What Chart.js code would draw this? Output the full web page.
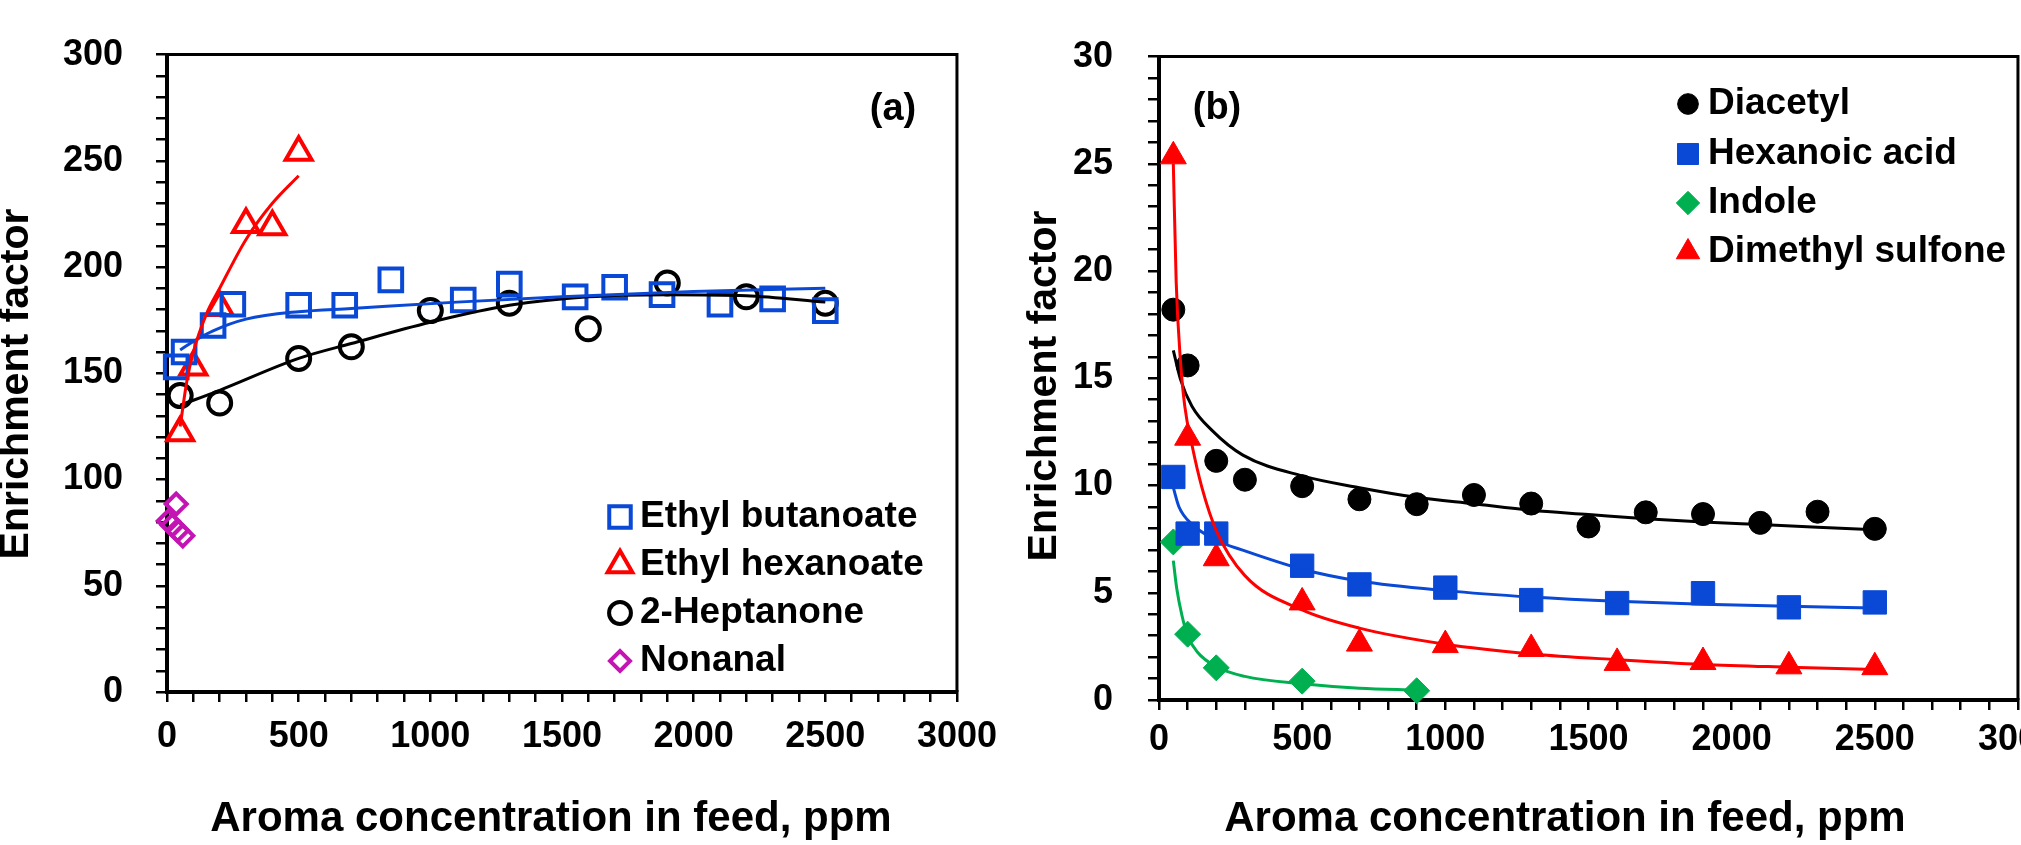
<!DOCTYPE html>
<html lang="en">
<head>
<meta charset="UTF-8" />
<title>Enrichment factor vs aroma concentration</title>
<script src="https://cdn.jsdelivr.net/npm/chart.js"></script>
<style>
  html, body { margin: 0; padding: 0; background: #fff; overflow: hidden; }
  .panel { position: absolute; top: 0; height: 845px; }
  #panelA { left: 0; width: 1010px; }
  #panelB { left: 1010px; width: 1056px; }
</style>
</head>
<body>
<div class="panel" id="panelA"><canvas id="chartA" width="1010" height="845"></canvas></div>
<div class="panel" id="panelB"><canvas id="chartB" width="1056" height="845"></canvas></div>
<script>
const X_TITLE = 'Aroma concentration in feed, ppm';
const Y_TITLE = 'Enrichment factor';

// ---- panel (a) data ----
const ebX = [35, 65, 175, 250, 500, 675, 850, 1125, 1300, 1550, 1700, 1880, 2100, 2300, 2500];
const ebY = [153, 160, 172.5, 182.5, 182, 182, 194, 184.5, 192, 186, 190.5, 187, 182.5, 185, 179.5];
const ehX = [50, 100, 200, 300, 400, 500];
const ehY = [122, 153, 181, 220, 219, 254];
const hpX = [50, 200, 500, 700, 1000, 1300, 1600, 1900, 2200, 2500];
const hpY = [139.5, 136, 157, 162.5, 179.5, 183, 171, 192.5, 186, 183];
const nnX = [35, 5, 20, 40, 60];
const nnY = [88.5, 80.5, 78.5, 76, 73.5];

// trend lines
const ebFitX = [50, 100, 175, 300, 500, 700, 1100, 1500, 2000, 2500];
const ebFitY = [161, 165, 170, 175.5, 179, 180.5, 183.5, 186, 188.5, 190];
const ehFitX = [50, 75, 100, 150, 200, 300, 400, 500];
const ehFitY = [125, 146, 160, 178, 190, 213, 230, 243];
const hpFitX = [50, 200, 500, 700, 1000, 1300, 1600, 1900, 2200, 2500];
const hpFitY = [135, 142, 157, 164, 174, 182, 186, 187, 186.5, 183.5];

// ---- panel (b) data ----
const diX = [50, 100, 200, 300, 500, 700, 900, 1100, 1300, 1500, 1700, 1900, 2100, 2300, 2500];
const diY = [18.2, 15.6, 11.15, 10.27, 9.97, 9.36, 9.13, 9.56, 9.16, 8.09, 8.75, 8.67, 8.26, 8.78, 7.98];
const haX = [50, 100, 200, 500, 700, 1000, 1300, 1600, 1900, 2200, 2500];
const haY = [10.4, 7.76, 7.76, 6.26, 5.39, 5.24, 4.66, 4.52, 4.98, 4.32, 4.55];
const inX = [50, 100, 200, 500, 900];
const inY = [7.37, 3.07, 1.5, 0.88, 0.43];
const dsX = [50, 100, 200, 500, 700, 1000, 1300, 1600, 1900, 2200, 2500];
const dsY = [25.35, 12.23, 6.61, 4.55, 2.63, 2.56, 2.38, 1.73, 1.77, 1.57, 1.53];

// trend lines
const diFitX = [50, 75, 115, 186, 293, 500, 700, 900, 1100, 1300, 1500, 1700, 1900, 2100, 2300, 2500];
const diFitY = [16.3, 14.95, 13.7, 12.56, 11.42, 10.45, 9.9, 9.45, 9.15, 8.85, 8.65, 8.45, 8.3, 8.18, 8.06, 7.94];
const haFitX = [50, 70, 115, 200, 300, 500, 700, 1000, 1300, 1600, 1900, 2200, 2500];
const haFitY = [9.9, 9.0, 8.2, 7.45, 6.95, 6.1, 5.55, 5.1, 4.8, 4.6, 4.47, 4.37, 4.29];
const inFitX = [50, 62, 80, 100, 133, 200, 300, 500, 700, 900];
const inFitY = [6.5, 5.2, 3.95, 3.0, 2.25, 1.55, 1.1, 0.76, 0.55, 0.46];
const dsFitX = [50, 60, 75, 90, 115, 150, 200, 300, 500, 700, 1000, 1300, 1600, 1900, 2200, 2500];
const dsFitY = [25, 19.5, 15.8, 13.7, 11.9, 9.9, 7.9, 5.8, 4.2, 3.35, 2.6, 2.15, 1.88, 1.66, 1.53, 1.42];

const BLUE = '#0a48d6';
const RED = '#ff0000';
const GREEN = '#00b050';
const MAGENTA = '#c414b4';
const FONT = "'Liberation Sans', Arial, sans-serif";

const pts = (xs, ys) => xs.map((x, i) => ({ x: x, y: ys[i] }));

function pointSet(label, data, style, r, color, filled) {
  return {
    label: label, data: data, showLine: false,
    pointStyle: style, pointRadius: r, pointHoverRadius: r,
    pointBorderWidth: filled ? 1 : 4,
    pointBorderColor: color,
    pointBackgroundColor: filled ? color : 'rgba(0,0,0,0)',
    clip: false
  };
}

function fitSet(data, color) {
  return {
    label: '', data: data, showLine: true, pointRadius: 0,
    borderColor: color, borderWidth: 3,
    cubicInterpolationMode: 'monotone', fill: false, clip: false
  };
}

function xAxis(height, pad) {
  return {
    type: 'linear', min: 0, max: 3000,
    afterFit: s => { s.height = height; },
    ticks: {
      stepSize: 100, autoSkip: false, maxRotation: 0, padding: pad, color: '#000',
      font: { family: FONT, size: 36, weight: 'bold' },
      callback: v => (v % 500 === 0 ? String(v) : '')
    },
    grid: { drawOnChartArea: false, drawTicks: true, tickLength: 10, lineWidth: 2.5, color: '#000' },
    border: { display: true, width: 4, color: '#000' }
  };
}

function yAxis(width, max, step, every, pad) {
  return {
    type: 'linear', min: 0, max: max,
    afterFit: s => { s.width = width; },
    ticks: {
      stepSize: step, autoSkip: false, padding: pad, color: '#000',
      font: { family: FONT, size: 36, weight: 'bold' },
      callback: v => (Math.abs(v % every) < 1e-6 ? String(v) : '')
    },
    grid: { drawOnChartArea: false, drawTicks: true, tickLength: 11, lineWidth: 2.5, color: '#000' },
    border: { display: true, width: 4, color: '#000' }
  };
}

// top and right border of the plot box
const frame = {
  id: 'frame',
  beforeDatasetsDraw(chart) {
    const a = chart.chartArea, ctx = chart.ctx;
    ctx.save();
    ctx.strokeStyle = '#000';
    ctx.lineWidth = 3;
    ctx.beginPath();
    ctx.moveTo(a.left, a.top);
    ctx.lineTo(a.right, a.top);
    ctx.lineTo(a.right, a.bottom);
    ctx.stroke();
    ctx.restore();
  }
};

// axis titles, in-plot legend and panel letter
const decor = {
  id: 'decor',
  afterDraw(chart, args, opts) {
    const ctx = chart.ctx;
    ctx.save();
    ctx.fillStyle = '#000';
    ctx.textBaseline = 'middle';
    ctx.textAlign = 'center';

    ctx.font = 'bold 42px ' + FONT;
    ctx.fillText(X_TITLE, opts.xTitle[0], opts.xTitle[1]);
    ctx.save();
    ctx.translate(opts.yTitle[0], opts.yTitle[1]);
    ctx.rotate(-Math.PI / 2);
    ctx.font = 'bold 41px ' + FONT;
    ctx.fillText(Y_TITLE, 0, 0);
    ctx.restore();

    ctx.font = 'bold 38px ' + FONT;
    ctx.fillText(opts.panel, opts.panelX, opts.panelY);

    ctx.textAlign = 'left';
    ctx.font = 'bold 37px ' + FONT;
    opts.items.forEach((idx, i) => {
      const ds = chart.data.datasets[idx];
      const y = opts.rows[i];
      ctx.save();
      ctx.fillStyle = ds.pointBackgroundColor;
      ctx.strokeStyle = ds.pointBorderColor;
      ctx.lineWidth = ds.pointBorderWidth;
      Chart.helpers.drawPoint(ctx, {
        pointStyle: ds.pointStyle, radius: ds.pointRadius * opts.scale,
        borderWidth: ds.pointBorderWidth, rotation: 0
      }, opts.markerX, y);
      ctx.restore();
      ctx.fillStyle = '#000';
      ctx.fillText(ds.label, opts.textX, y);
    });
    ctx.restore();
  }
};

const common = {
  responsive: false,
  animation: false,
  events: [],
  plugins: { legend: { display: false }, tooltip: { enabled: false } }
};

new Chart(document.getElementById('chartA'), {
  type: 'scatter',
  data: {
    datasets: [
      fitSet(pts(ehFitX, ehFitY), RED),
      fitSet(pts(ebFitX, ebFitY), BLUE),
      fitSet(pts(hpFitX, hpFitY), '#000'),
      pointSet('Ethyl butanoate', pts(ebX, ebY), 'rect', 16, BLUE, false),
      pointSet('Ethyl hexanoate', pts(ehX, ehY), 'triangle', 15, RED, false),
      pointSet('2-Heptanone', pts(hpX, hpY), 'circle', 11.5, '#000', false),
      pointSet('Nonanal', pts(nnX, nnY), 'rectRot', 10.5, MAGENTA, false)
    ]
  },
  options: Object.assign({}, common, {
    layout: { padding: { left: 0, top: 42, right: 47, bottom: 0 } },
    scales: { x: xAxis(153, 13), y: yAxis(167, 300, 10, 50, 33) },
    plugins: Object.assign({}, common.plugins, {
      decor: { xTitle: [551, 819], yTitle: [17, 384],
               panel: '(a)', panelX: 893, panelY: 110, markerX: 620, textX: 640,
               rows: [517, 565, 613, 661], items: [3, 4, 5, 6], scale: 0.95 }
    })
  }),
  plugins: [frame, decor]
});

new Chart(document.getElementById('chartB'), {
  type: 'scatter',
  data: {
    datasets: [
      fitSet(pts(dsFitX, dsFitY), RED),
      fitSet(pts(diFitX, diFitY), '#000'),
      fitSet(pts(haFitX, haFitY), BLUE),
      fitSet(pts(inFitX, inFitY), GREEN),
      pointSet('Diacetyl', pts(diX, diY), 'circle', 11.5, '#000', true),
      pointSet('Hexanoic acid', pts(haX, haY), 'rect', 16.5, BLUE, true),
      pointSet('Indole', pts(inX, inY), 'rectRot', 13, GREEN, true),
      pointSet('Dimethyl sulfone', pts(dsX, dsY), 'triangle', 15, RED, true)
    ]
  },
  options: Object.assign({}, common, {
    layout: { padding: { left: 17, top: 43, right: 47, bottom: 0 } },
    scales: { x: xAxis(145, 8), y: yAxis(132, 30, 1, 5, 35) },
    plugins: Object.assign({}, common.plugins, {
      decor: { xTitle: [555, 819], yTitle: [35, 386],
               panel: '(b)', panelX: 207, panelY: 109, markerX: 678, textX: 698,
               rows: [104, 154, 203, 252], items: [4, 5, 6, 7], scale: 0.9 }
    })
  }),
  plugins: [frame, decor]
});
</script>
</body>
</html>
